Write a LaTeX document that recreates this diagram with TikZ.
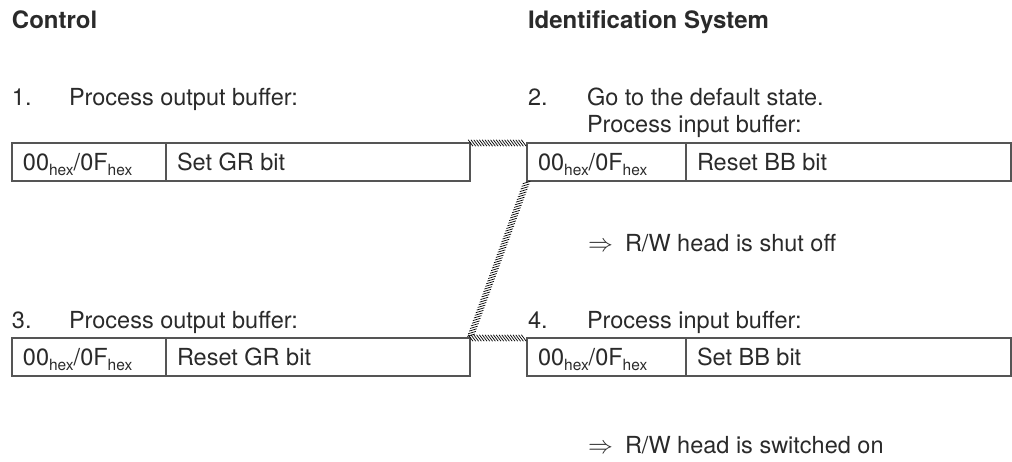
\documentclass[tikz,border=0pt]{standalone}
\usepackage{fontspec}
\setmainfont{TeX Gyre Heros}
\usetikzlibrary{decorations.markings}
\definecolor{txt}{HTML}{2A2A2A}
\definecolor{boxc}{HTML}{555555}
\newcommand{\hexsub}{\raisebox{-5pt}{\fontsize{15.5}{16}\selectfont hex}}
\newcommand{\hexcode}{00\hexsub/0F\hexsub}
\begin{document}
\begin{tikzpicture}[x=1pt,y=-1pt,
  every node/.style={font=\fontsize{23.5}{28}\selectfont, text=txt, inner sep=0pt, outer sep=0pt},
  lbl/.style={anchor=base west},
  head/.style={anchor=base west, font=\fontsize{24}{28}\selectfont\bfseries},
  cell/.style={draw=boxc, line width=1.3pt, rectangle, minimum height=38pt, anchor=north west},
  hatch/.style={decoration={markings, mark=between positions 0.01 and 0.99 step 2.8pt with {\draw[line width=0.7pt, black] (-2.4pt,3.2pt) -- (2.4pt,-3.2pt);}}, decorate}]
\useasboundingbox (0,0) rectangle (1012,461);

% headings
\node[head] (hc) at (12,28) {Control};
\node[head] (hi) at (528,28) {Identification System};

% step 1
\node[lbl] (n1) at (12,105) {1.};
\node[lbl] (t1) at (69,105) {Process output buffer:};
\node[cell, minimum width=154pt] (b1a) at (12,143) {};
\node[cell, minimum width=304pt] (b1b) at (166,143) {};
\node[lbl] (c1a) at (23,170) {\hexcode};
\node[lbl] (c1b) at (177,170) {Set GR bit};

% step 2
\node[lbl] (n2) at (528,105) {2.};
\node[lbl] (t2) at (587,105) {Go to the default state.};
\node[lbl] (t2b) at (587,132) {Process input buffer:};
\node[cell, minimum width=159pt] (b2a) at (527,143) {};
\node[cell, minimum width=325pt] (b2b) at (686,143) {};
\node[lbl] (c2a) at (538,170) {\hexcode};
\node[lbl] (c2b) at (697,170) {Reset BB bit};
\node[lbl] (ar1) at (588,251) {$\Rightarrow$};
\node[lbl] (r1) at (625,251) {R/W head is shut off};

% step 3
\node[lbl] (n3) at (12,328) {3.};
\node[lbl] (t3) at (69,328) {Process output buffer:};
\node[cell, minimum width=154pt] (b3a) at (12,338) {};
\node[cell, minimum width=304pt] (b3b) at (166,338) {};
\node[lbl] (c3a) at (23,365) {\hexcode};
\node[lbl] (c3b) at (177,365) {Reset GR bit};

% step 4
\node[lbl] (n4) at (528,328) {4.};
\node[lbl] (t4) at (587,328) {Process input buffer:};
\node[cell, minimum width=159pt] (b4a) at (527,338) {};
\node[cell, minimum width=325pt] (b4b) at (686,338) {};
\node[lbl] (c4a) at (538,365) {\hexcode};
\node[lbl] (c4b) at (697,365) {Set BB bit};
\node[lbl] (ar2) at (588,453) {$\Rightarrow$};
\node[lbl] (r2) at (625,453) {R/W head is switched on};

% hatched connectors
\path[hatch] (b1b.north east) -- (b2a.north west);
\path[hatch] (b2a.south west) -- (b3b.north east);
\path[hatch] (b3b.north east) -- (b4a.north west);
\end{tikzpicture}
\end{document}
